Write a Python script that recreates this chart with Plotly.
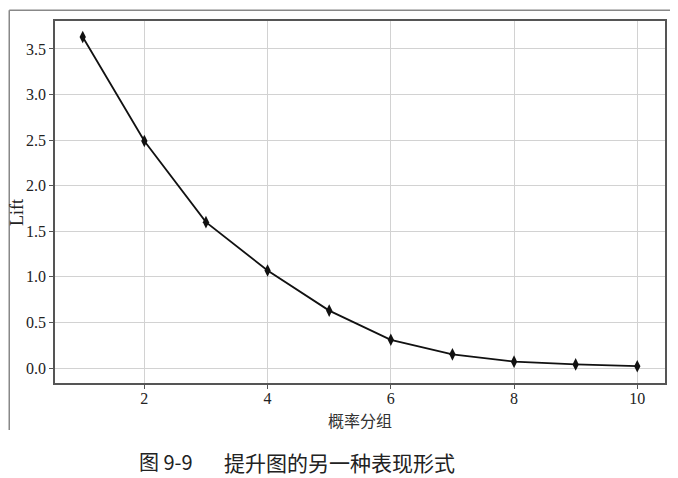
import plotly.graph_objects as go

# probability group (decile) vs lift
groups = [1, 2, 3, 4, 5, 6, 7, 8, 9, 10]
lift = [3.63, 2.49, 1.60, 1.07, 0.63, 0.31, 0.15, 0.07, 0.04, 0.02]

x_ticks = [2, 4, 6, 8, 10]
y_ticks = [0.0, 0.5, 1.0, 1.5, 2.0, 2.5, 3.0, 3.5]
y_tick_text = ['%.1f' % v for v in y_ticks]

caption_no = '图 9-9'
caption_text = '提升图的另一种表现形式'

fig = go.Figure()
fig.add_trace(go.Scatter(
    x=groups, y=lift, mode='lines+markers',
    line=dict(color='#111111', width=1.8),
    marker=dict(symbol='diamond-tall', size=9, color='#111111'),
    showlegend=False,
))

serif = 'Liberation Serif, DejaVu Serif, serif'
cjk = 'Noto Sans CJK SC'

# the page body adds ~8px margin, so the figure is sized to fit the window
fig.update_layout(
    width=670, height=470,
    margin=dict(l=47, r=11, t=12, b=95),
    paper_bgcolor='white', plot_bgcolor='white',
    font=dict(family=serif, size=16, color='#222222'),
)
axis_style = dict(
    showgrid=True, gridcolor='#d2d2d2', gridwidth=1.2,
    showline=True, linecolor='#555555', linewidth=1.8, mirror=True,
    ticks='outside', ticklen=4, tickcolor='#555555',
    zeroline=False, tickfont=dict(family=serif, size=16, color='#222222'),
)
fig.update_xaxes(range=[0.55, 10.45], tickvals=x_ticks, ticklabelstandoff=-4, **axis_style)
fig.update_yaxes(range=[-0.164, 3.806], tickvals=y_ticks, ticktext=y_tick_text, **axis_style)

# axis titles
fig.add_annotation(text='概率分组', xref='paper', yref='paper', x=0.5, y=-0.103,
                   xanchor='center', yanchor='middle', showarrow=False,
                   font=dict(family=cjk, size=16, color='#333333'))
fig.add_annotation(text='Lift', xref='paper', yref='paper', x=-0.062, y=0.47,
                   xanchor='center', yanchor='middle', showarrow=False, textangle=-90,
                   font=dict(family=serif, size=18, color='#222222'))

# caption below the chart
fig.add_annotation(text=caption_no, xref='paper', yref='paper', x=0.134, y=-0.218,
                   xanchor='left', yanchor='middle', showarrow=False,
                   font=dict(family=cjk, size=20, color='#222222'))
fig.add_annotation(text=caption_text, xref='paper', yref='paper', x=0.273, y=-0.218,
                   xanchor='left', yanchor='middle', showarrow=False,
                   font=dict(family=cjk, size=21, color='#222222'))

# outer frame (top and left edges of the scanned figure)
fig.add_shape(type='line', xref='paper', yref='paper', x0=-0.075, x1=1.03, y0=1.03, y1=1.03,
              line=dict(color='#888888', width=1.5))
fig.add_shape(type='line', xref='paper', yref='paper', x0=-0.075, x1=-0.075, y0=1.03, y1=-0.13,
              line=dict(color='#888888', width=1.5))

fig.write_html('out.html')
